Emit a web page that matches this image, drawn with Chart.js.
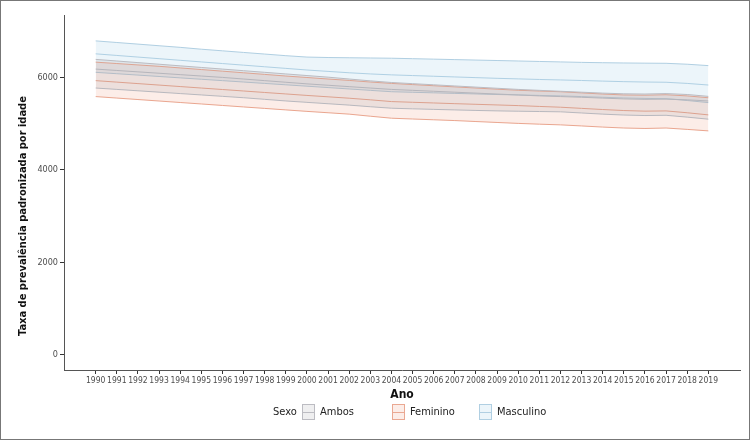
<!DOCTYPE html>
<html>
<head>
<meta charset="utf-8">
<script src="https://cdn.jsdelivr.net/npm/chart.js@4"></script>
<style>
  html, body { margin: 0; padding: 0; background: #fff; }
  #wrap { position: relative; width: 750px; height: 440px; }
</style>
</head>
<body>
<div id="wrap"><canvas id="chart" width="750" height="440"></canvas></div>
<script>
// Years on the x axis
const years = [1990, 1991, 1992, 1993, 1994, 1995, 1996, 1997, 1998, 1999,
  2000, 2001, 2002, 2003, 2004, 2005, 2006, 2007, 2008, 2009,
  2010, 2011, 2012, 2013, 2014, 2015, 2016, 2017, 2018, 2019];
const yTicks = [0, 2000, 4000, 6000];

// Masculino: upper, central, lower
const mascUpper = [6790, 6755, 6720, 6685, 6650, 6610, 6575, 6540, 6505, 6470, 6440, 6430, 6425, 6420, 6415, 6405, 6395, 6385, 6375, 6365, 6355, 6345, 6335, 6325, 6318, 6312, 6308, 6305, 6285, 6255];
const mascMid = [6510, 6475, 6440, 6405, 6370, 6335, 6300, 6265, 6230, 6195, 6160, 6130, 6100, 6075, 6055, 6040, 6025, 6010, 5995, 5980, 5968, 5955, 5945, 5933, 5920, 5908, 5900, 5895, 5870, 5835];
const mascLower = [6110, 6080, 6050, 6020, 5990, 5960, 5930, 5900, 5870, 5840, 5810, 5780, 5750, 5720, 5690, 5678, 5666, 5654, 5642, 5630, 5620, 5610, 5600, 5585, 5570, 5555, 5545, 5540, 5500, 5455];

// Ambos
const ambUpper = [6390, 6355, 6320, 6285, 6250, 6215, 6180, 6145, 6110, 6075, 6040, 6005, 5965, 5925, 5890, 5865, 5840, 5815, 5790, 5765, 5740, 5720, 5700, 5680, 5660, 5645, 5640, 5650, 5630, 5590];
const ambMid = [6180, 6150, 6120, 6090, 6060, 6030, 6000, 5965, 5930, 5895, 5860, 5830, 5800, 5770, 5740, 5720, 5700, 5680, 5660, 5640, 5620, 5600, 5585, 5570, 5552, 5535, 5525, 5530, 5515, 5490];
const ambLower = [5770, 5740, 5710, 5680, 5650, 5620, 5590, 5560, 5525, 5490, 5460, 5430, 5400, 5365, 5333, 5320, 5308, 5296, 5285, 5275, 5268, 5262, 5255, 5230, 5205, 5185, 5175, 5180, 5140, 5096];

// Feminino
const femUpper = [6330, 6300, 6270, 6240, 6205, 6170, 6135, 6100, 6065, 6030, 5998, 5965, 5935, 5900, 5870, 5845, 5820, 5795, 5770, 5745, 5722, 5705, 5690, 5665, 5640, 5620, 5615, 5625, 5600, 5560];
const femMid = [5930, 5898, 5866, 5834, 5802, 5770, 5738, 5706, 5674, 5642, 5610, 5580, 5550, 5515, 5477, 5462, 5447, 5432, 5418, 5404, 5390, 5372, 5355, 5330, 5305, 5283, 5270, 5275, 5235, 5189];
const femLower = [5585, 5553, 5521, 5489, 5457, 5425, 5393, 5361, 5329, 5297, 5265, 5235, 5205, 5160, 5117, 5100, 5083, 5066, 5045, 5025, 5005, 4988, 4973, 4950, 4925, 4905, 4895, 4905, 4875, 4843];

const FONT = "'DejaVu Sans Condensed', 'Liberation Sans Narrow', 'Liberation Sans', Arial, sans-serif";
const Y_TITLE = 'Taxa de prevalência padronizada por idade';

const GROUPS = [
  { label: 'Ambos', upper: ambUpper, mid: ambMid, lower: ambLower,
    fill: 'rgba(150, 150, 155, 0.15)', line: 'rgb(188, 188, 194)' },
  { label: 'Feminino', upper: femUpper, mid: femMid, lower: femLower,
    fill: 'rgba(240, 150, 120, 0.17)', line: 'rgb(234, 168, 146)' },
  { label: 'Masculino', upper: mascUpper, mid: mascMid, lower: mascLower,
    fill: 'rgba(175, 215, 235, 0.24)', line: 'rgb(176, 207, 226)' },
];

const pts = arr => arr.map((v, i) => ({ x: years[i], y: v }));

const datasets = [];
GROUPS.forEach(g => {
  const base = { borderColor: g.line, borderWidth: 1, pointRadius: 0, tension: 0 };
  datasets.push({ ...base, label: g.label + ' sup', data: pts(g.upper), backgroundColor: g.fill, fill: '+2' });
  datasets.push({ ...base, label: g.label, data: pts(g.mid), fill: false });
  datasets.push({ ...base, label: g.label + ' inf', data: pts(g.lower), fill: false });
});

// frame, y title and ggplot-style legend
const decor = {
  id: 'decor',
  beforeDraw(chart) {
    const ctx = chart.ctx;
    ctx.save();
    ctx.fillStyle = '#fff';
    ctx.fillRect(0, 0, chart.width, chart.height);
    ctx.restore();
  },
  afterDraw(chart) {
    const ctx = chart.ctx;
    ctx.save();
    ctx.strokeStyle = '#777';
    ctx.lineWidth = 1;
    ctx.strokeRect(0.5, 0.5, chart.width - 1, chart.height - 1);

    // y axis title
    ctx.save();
    ctx.translate(23, 216);
    ctx.rotate(-Math.PI / 2);
    ctx.font = 'bold 11px ' + FONT;
    ctx.fillStyle = '#111';
    ctx.textAlign = 'center';
    ctx.textBaseline = 'middle';
    ctx.fillText(Y_TITLE, 0, 0);
    ctx.restore();

    const y = 412;
    ctx.font = '11px ' + FONT;
    ctx.fillStyle = '#222';
    ctx.textBaseline = 'middle';
    ctx.textAlign = 'left';
    ctx.fillText('Sexo', 273, y);
    const keyX = [302, 392, 479];
    GROUPS.forEach((g, i) => {
      const x = keyX[i];
      ctx.fillStyle = g.fill;
      ctx.fillRect(x, y - 8, 13, 16);
      ctx.strokeStyle = g.line;
      ctx.strokeRect(x + 0.5, y - 7.5, 12, 15);
      ctx.beginPath();
      ctx.moveTo(x, y + 0.5);
      ctx.lineTo(x + 13, y + 0.5);
      ctx.stroke();
      ctx.fillStyle = '#222';
      ctx.fillText(g.label, x + 18, y);
    });
    ctx.restore();
  }
};

new Chart(document.getElementById('chart'), {
  type: 'line',
  data: { datasets },
  plugins: [decor],
  options: {
    responsive: false,
    animation: false,
    layout: { padding: { top: 15, right: 10, left: 0, bottom: 0 } },
    plugins: {
      legend: { display: false },
      tooltip: { enabled: false },
    },
    scales: {
      x: {
        type: 'linear',
        min: 1988.5,
        max: 2020.5,
        afterBuildTicks: s => { s.ticks = years.map(v => ({ value: v })); },
        afterFit: s => { s.height = 70; },
        grid: { drawOnChartArea: false, tickLength: 4, color: '#333' },
        border: { color: '#555', width: 1 },
        ticks: {
          autoSkip: false, maxRotation: 0, padding: 2,
          color: '#4d4d4d', font: { family: FONT, size: 8.5 },
          callback: v => String(v),
        },
        title: {
          display: true, text: 'Ano', color: '#111',
          font: { family: FONT, size: 12, weight: 'bold' },
          padding: { top: 0, bottom: 38 },
        },
      },
      y: {
        min: -330,
        max: 7350,
        afterBuildTicks: s => { s.ticks = yTicks.map(v => ({ value: v })); },
        afterFit: s => { s.width = 64; },
        grid: { drawOnChartArea: false, tickLength: 4, color: '#333' },
        border: { color: '#555', width: 1 },
        ticks: {
          padding: 2, color: '#4d4d4d', font: { family: FONT, size: 9 },
          callback: v => String(v),
        },
      },
    },
  },
});
</script>
</body>
</html>
